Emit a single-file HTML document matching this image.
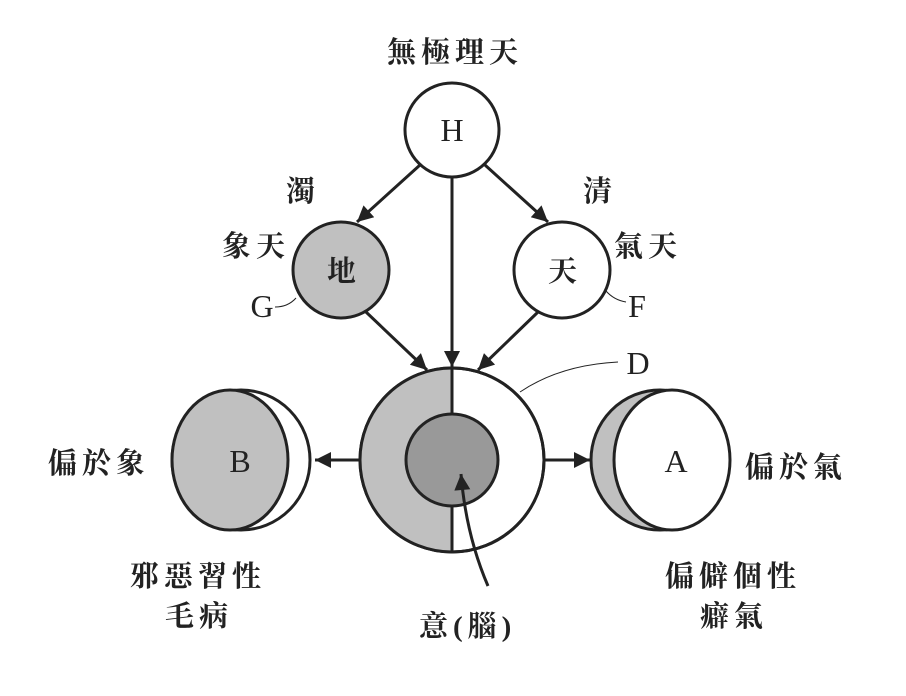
<!DOCTYPE html>
<html><head><meta charset="utf-8"><style>
html,body{margin:0;padding:0;background:#fff;}
svg{display:block;}
text{font-family:"Liberation Serif","Noto Serif CJK TC","Noto Serif CJK SC",serif;fill:#222;}
.cj{font-size:29px;font-weight:bold;letter-spacing:5px;}
.lt{font-size:32px;}
</style></head><body>
<svg width="906" height="696" viewBox="0 0 906 696" xmlns="http://www.w3.org/2000/svg">
<defs>
<marker id="ar2" viewBox="0 0 10 10" refX="10" refY="5" markerWidth="22" markerHeight="16" markerUnits="userSpaceOnUse" orient="auto">
<path d="M0,0 L10,5 L0,10 Z" fill="#222"/></marker>
</defs>
<g stroke="#222" stroke-width="3" fill="none">
<circle cx="452" cy="130" r="47" fill="#fff"/>
<circle cx="341" cy="270" r="48" fill="#c0c0c0"/>
<circle cx="562" cy="270" r="48" fill="#fff"/>
<line x1="420" y1="165" x2="357" y2="222" marker-end="url(#ar2)"/>
<line x1="485" y1="165" x2="548" y2="222" marker-end="url(#ar2)"/>
<line x1="452" y1="177" x2="452" y2="367" marker-end="url(#ar2)"/>
<line x1="366" y1="312" x2="427" y2="370" marker-end="url(#ar2)"/>
<line x1="538" y1="312" x2="478" y2="370" marker-end="url(#ar2)"/>
<circle cx="452" cy="460" r="92" fill="#fff"/>
<path d="M452,368 A92,92 0 0,0 452,552 Z" fill="#c0c0c0" stroke="none"/>
<circle cx="452" cy="460" r="92"/>
<line x1="452" y1="368" x2="452" y2="552"/>
<circle cx="452" cy="460" r="46" fill="#999"/>
<ellipse cx="241" cy="460" rx="69" ry="70" fill="#fff"/>
<ellipse cx="230" cy="460" rx="58" ry="70" fill="#c0c0c0"/>
<ellipse cx="660" cy="460" rx="69" ry="70" fill="#c0c0c0"/>
<ellipse cx="672" cy="460" rx="58" ry="70" fill="#fff"/>
<line x1="360" y1="460" x2="315" y2="460" marker-end="url(#ar2)"/>
<line x1="544" y1="460" x2="590" y2="460" marker-end="url(#ar2)"/>
<path d="M488,586 Q466,535 461,474" marker-end="url(#ar2)"/>
</g>
<g stroke="#222" stroke-width="1" fill="none">
<path d="M520,392 Q560,365 618,362"/>
<path d="M296,298 Q288,307 275,307"/>
<path d="M606,291 Q614,300 626,302"/>
</g>
<text class="cj" x="455" y="62" text-anchor="middle">無極理天</text>
<text class="lt" x="452" y="141" text-anchor="middle">H</text>
<text class="cj" x="344" y="281" text-anchor="middle">地</text>
<text class="cj" x="565" y="281" text-anchor="middle">天</text>
<text class="cj" x="303" y="201" text-anchor="middle">濁</text>
<text class="cj" x="600" y="201" text-anchor="middle">清</text>
<text class="cj" x="222" y="256">象天</text>
<text class="cj" x="614" y="256">氣天</text>
<text class="lt" x="262" y="317" text-anchor="middle">G</text>
<text class="lt" x="637" y="317" text-anchor="middle">F</text>
<text class="lt" x="638" y="374" text-anchor="middle">D</text>
<text class="lt" x="240" y="472" text-anchor="middle">B</text>
<text class="lt" x="676" y="472" text-anchor="middle">A</text>
<text class="cj" x="48" y="473">偏於象</text>
<text class="cj" x="745" y="477">偏於氣</text>
<text class="cj" x="130" y="586">邪惡習性</text>
<text class="cj" x="165" y="626">毛病</text>
<text class="cj" x="665" y="586">偏僻個性</text>
<text class="cj" x="700" y="626">癖氣</text>
<text class="cj" x="419" y="636">意(腦)</text>
</svg>
</body></html>
